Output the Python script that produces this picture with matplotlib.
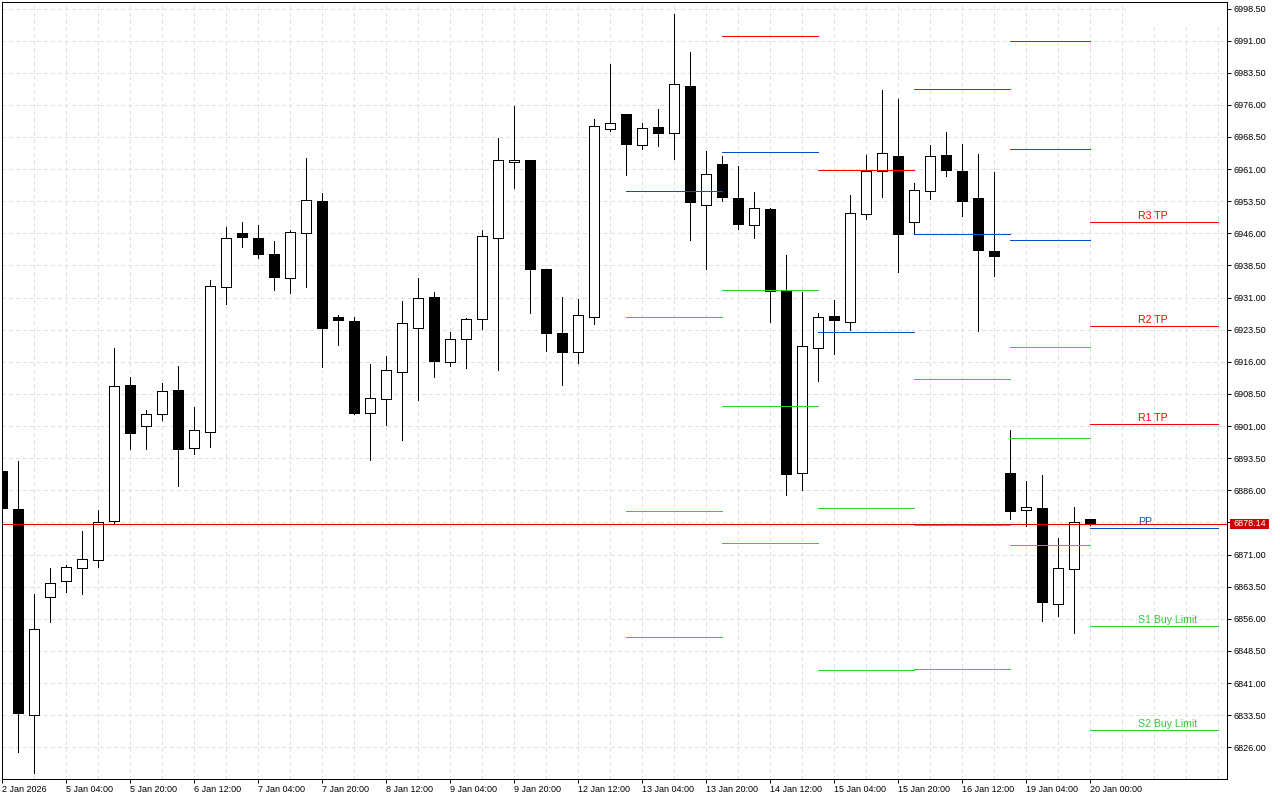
"""Candlestick chart with weekly pivot levels, terminal look."""
from matplotlib import pyplot as plt
from matplotlib.patches import Rectangle
from matplotlib.transforms import blended_transform_factory

opens = [
    6890.52, 6881.64, 6833.62, 6861.17, 6864.76, 6867.80, 6869.66, 6878.77,
    6910.60, 6901.09, 6903.90, 6909.43, 6895.82, 6899.69, 6933.41, 6946.08,
    6944.92, 6941.18, 6935.51, 6946.02, 6953.56, 6926.47, 6925.54, 6904.13,
    6907.40, 6913.70, 6923.97, 6931.14, 6916.03, 6921.26, 6926.08, 6944.85,
    6962.59, 6963.13, 6937.68, 6922.74, 6918.37, 6926.54, 6970.44, 6973.87,
    6966.70, 6970.83, 6969.50, 6980.41, 6952.55, 6962.20, 6954.26, 6948.02,
    6951.69, 6932.66, 6889.98, 6919.17, 6926.70, 6925.23, 6950.45, 6960.63,
    6964.06, 6948.58, 6955.82, 6964.30, 6960.56, 6954.26, 6941.88, 6890.05,
    6881.34, 6881.88, 6859.39, 6867.56, 6879.31,
]
highs = [
    6890.52, 6892.85, 6861.80, 6867.87, 6868.50, 6876.51, 6881.34, 6919.17,
    6912.46, 6904.69, 6911.06, 6915.03, 6905.46, 6935.11, 6947.49, 6948.65,
    6947.95, 6944.22, 6946.79, 6963.60, 6955.42, 6926.94, 6926.47, 6915.50,
    6917.37, 6930.21, 6935.58, 6932.31, 6922.97, 6926.24, 6946.79, 6968.27,
    6975.74, 6963.13, 6937.68, 6931.14, 6930.67, 6972.70, 6985.54, 6973.87,
    6971.77, 6975.04, 6997.22, 6988.34, 6965.23, 6964.06, 6961.73, 6955.66,
    6951.92, 6940.95, 6932.31, 6927.41, 6930.44, 6954.89, 6964.30, 6979.47,
    6977.37, 6957.76, 6966.63, 6969.66, 6966.86, 6964.53, 6960.33, 6900.09,
    6888.18, 6889.58, 6874.87, 6882.11, 6879.31,
]
lows = [
    6881.64, 6824.98, 6820.00, 6855.33, 6862.33, 6861.87, 6868.17, 6878.14,
    6895.72, 6895.72, 6902.49, 6887.09, 6894.55, 6896.19, 6929.58, 6942.89,
    6940.32, 6932.85, 6932.15, 6933.55, 6914.87, 6920.00, 6903.90, 6893.08,
    6901.33, 6897.82, 6907.16, 6912.53, 6915.10, 6914.63, 6923.67, 6914.17,
    6956.66, 6927.47, 6918.60, 6910.67, 6915.80, 6924.91, 6969.97, 6959.70,
    6965.77, 6966.47, 6963.43, 6944.52, 6937.75, 6953.56, 6947.02, 6944.99,
    6925.38, 6884.98, 6886.15, 6911.60, 6917.90, 6923.51, 6949.42, 6954.56,
    6936.98, 6945.78, 6954.09, 6959.46, 6950.12, 6923.27, 6936.12, 6879.38,
    6877.75, 6855.56, 6856.73, 6852.76, 6877.83,
]
closes = [
    6881.64, 6833.78, 6853.56, 6864.30, 6868.03, 6869.90, 6878.54, 6910.29,
    6899.23, 6903.75, 6909.12, 6895.49, 6900.02, 6933.64, 6944.85, 6944.92,
    6941.02, 6935.65, 6946.25, 6953.72, 6923.74, 6925.61, 6903.90, 6907.49,
    6914.03, 6925.00, 6930.84, 6916.03, 6921.26, 6925.93, 6945.31, 6963.06,
    6963.06, 6937.52, 6922.57, 6918.14, 6926.87, 6971.00, 6971.70, 6966.70,
    6970.53, 6969.27, 6980.80, 6953.16, 6959.79, 6954.33, 6947.95, 6951.85,
    6932.38, 6889.65, 6919.63, 6926.40, 6925.61, 6950.68, 6960.49, 6964.69,
    6945.69, 6956.05, 6963.99, 6960.63, 6953.39, 6941.95, 6940.55, 6881.01,
    6882.04, 6859.77, 6867.80, 6878.54, 6878.14,
]

# pivot levels per period, in bar numbers
period_starts = [39, 45, 51, 57, 63, 68]
period_ends = [45, 51, 57, 63, 68, 76]
red_levels = [
    [], [6992.01], [6960.72], [6979.63], [6990.84, 6965.63],
    [6948.58, 6924.30, 6901.42],
]
blue_levels = [
    [6955.82], [6964.93], [6922.90], [6945.78], [6944.38], [6877.14],
]
green_levels = [
    [6926.40, 6881.10, 6851.69],
    [6932.71, 6905.62, 6873.63],
    [6881.81, 6843.98],
    [6911.92, 6877.84, 6844.22],
    [6919.40, 6898.15, 6873.17],
    [6854.26, 6829.97],
]

level_labels = ['R3 TP', 'R2 TP', 'R1 TP', 'PP', 'S1 Buy Limit', 'S2 Buy Limit']
label_values = [6948.58, 6924.30, 6901.42, 6877.14, 6854.26, 6829.97]
label_colors = ['#ff0000', '#ff0000', '#ff0000', '#0050d0', '#32cd32', '#32cd32']

last_price = 6878.14

price_ticks = [6826.00 + 7.5 * i for i in range(24)]
time_labels = [
    '2 Jan 2026', '5 Jan 04:00', '5 Jan 20:00', '6 Jan 12:00', '7 Jan 04:00',
    '7 Jan 20:00', '8 Jan 12:00', '9 Jan 04:00', '9 Jan 20:00', '12 Jan 12:00',
    '13 Jan 04:00', '13 Jan 20:00', '14 Jan 12:00', '15 Jan 04:00',
    '15 Jan 20:00', '16 Jan 12:00', '19 Jan 04:00', '20 Jan 00:00',
]

RED = '#ff0000'
BLUE = '#0050d0'
GREEN = '#32cd32'
PX = 0.72  # one pixel in points at dpi 100

plt.rcParams['font.family'] = ['Liberation Sans', 'DejaVu Sans']
plt.rcParams['font.size'] = 6.5


def draw_candles(ax):
    """Draw wicks and bodies."""
    for i, (o, h, l, c) in enumerate(zip(opens, highs, lows, closes)):
        ax.vlines(i, l, h, color='black', lw=PX, zorder=3, antialiased=False)
        if c < o:
            ax.bar(i, o - c, width=0.69, bottom=c, facecolor='black',
                   edgecolor='none', lw=0, zorder=4, antialiased=False)
        else:
            ax.bar(i, c - o, width=0.62, bottom=o, facecolor='white',
                   edgecolor='black', lw=PX, zorder=4, antialiased=False)


def draw_levels(ax):
    """Draw the pivot segments of every period."""
    for levels, color in ((red_levels, RED), (blue_levels, BLUE),
                          (green_levels, GREEN)):
        for start, end, values in zip(period_starts, period_ends, levels):
            for value in values:
                ax.hlines(value, start, end, color=color, lw=PX, zorder=5,
                          antialiased=False)
    for label, value, color in zip(level_labels, label_values, label_colors):
        ax.annotate(label, (71, value), xytext=(0, 0.6), fontsize=7.6,
                    textcoords='offset points', color=color, va='bottom',
                    ha='left', zorder=6)


def draw_last_price(ax):
    """Current price line and its tag on the price scale."""
    ax.axhline(last_price, color='#d80000', lw=PX, zorder=7, antialiased=False)
    trans = blended_transform_factory(ax.transAxes, ax.transData)
    ax.add_patch(Rectangle((1 + 3 / 1225, last_price - 1.28), 39 / 1225, 2.56,
                           transform=trans, facecolor='#cc0000',
                           edgecolor='none', clip_on=False, zorder=8))
    ax.text(1 + 6 / 1225, last_price, f'{last_price:.2f}', transform=trans,
            color='white', va='center', ha='left', zorder=9)


def main():
    """Build the figure."""
    fig = plt.figure(figsize=(12.8, 8), dpi=100)
    ax = fig.add_axes([2.33 / 1280, 1 - 779.3 / 800, 1225 / 1280, 777 / 800])
    ax.set_xlim(0, 76.56)
    ax.set_ylim(6818.53, 6999.95)

    # the tag of the last price sits where 6878.50 would be
    ax.set_yticks(price_ticks)
    ax.set_yticklabels(['' if p == 6878.5 else f'{p:.2f}' for p in price_ticks])
    ax.set_xticks(range(0, 69, 4))
    ax.set_xticklabels(time_labels, ha='left')
    ax.set_xticks(range(2, 77, 2), minor=True)
    ax.yaxis.tick_right()
    ax.tick_params(axis='both', which='major', length=3, width=PX, pad=1.2,
                   colors='black')
    ax.tick_params(axis='x', which='major', pad=1.0)
    ax.tick_params(axis='x', which='minor', length=0)
    ax.grid(True, which='both', color='#e0e0e0', lw=PX,
            linestyle=(0, (3, 3)), zorder=0, antialiased=False)
    ax.set_axisbelow(True)
    for spine in ax.spines.values():
        spine.set_linewidth(PX)

    # empty corner at top right, the grid stops there
    ax.add_patch(Rectangle((0.918, 0.971), 0.082, 0.029, transform=ax.transAxes,
                           facecolor='white', edgecolor='none', zorder=1))

    draw_candles(ax)
    draw_levels(ax)
    draw_last_price(ax)

    fig.savefig('out.png', dpi=100, facecolor='white')


if __name__ == '__main__':
    main()
